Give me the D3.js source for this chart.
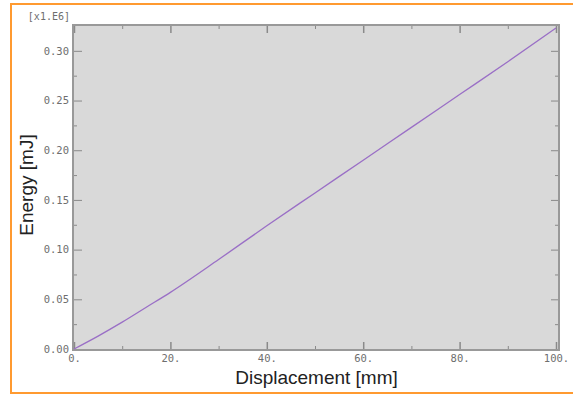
<!DOCTYPE html>
<html>
<head>
<meta charset="utf-8">
<script src="https://cdn.jsdelivr.net/npm/d3@7"></script>
<style>
  body { margin: 0; background: #fff; }
  svg { display: block; }
  .tick text { font-family: "DejaVu Sans Mono", monospace; font-size: 10.5px; fill: #6e6e6e; }
  .tick line { stroke: #8a8a8a; }
</style>
</head>
<body>
<svg width="573" height="396"></svg>
<script>
// displacement [mm] and energy [x1.E6 mJ]
var displacement = [0, 5, 10, 15, 20, 30, 40, 50, 60, 70, 80, 90, 100];
var energy = [0, 0.013, 0.027, 0.042, 0.057, 0.090, 0.124, 0.157, 0.190, 0.223, 0.256, 0.289, 0.323];

var xMajor = [0, 20, 40, 60, 80, 100];
var xMinor = [10, 30, 50, 70, 90];
var yMajor = [0, 0.05, 0.10, 0.15, 0.20, 0.25, 0.30];
var yMinor = [0.025, 0.075, 0.125, 0.175, 0.225, 0.275];

var svg = d3.select("svg");

// plot box (not "top": that name is taken by window.top)
var pLeft = 74, pRight = 556, pTop = 25, pBottom = 349;

var x = d3.scaleLinear().domain([0, 100]).range([pLeft, pRight]);
var y = d3.scaleLinear().domain([0, 0.326]).range([pBottom, pTop]);

// orange frame round the whole figure
svg.append("rect")
  .attr("x", 11).attr("y", 4)
  .attr("width", 575).attr("height", 389)
  .attr("fill", "none")
  .attr("stroke", "#ff9a30")
  .attr("stroke-width", 2);

// plot background
svg.append("rect")
  .attr("x", pLeft - 1).attr("y", pTop)
  .attr("width", pRight - pLeft + 4).attr("height", pBottom - pTop + 1)
  .attr("fill", "#d9d9d9");

// ticks
function cleanAxis(g) {
  g.select(".domain").remove();
}

svg.append("g")
  .attr("transform", "translate(0," + (pBottom + 1) + ")")
  .call(d3.axisBottom(x).tickValues(xMajor).tickSize(-8).tickPadding(5)
    .tickFormat(function(d) { return d + "."; }))
  .call(cleanAxis)
  .call(function(g) { g.selectAll("line").attr("stroke-width", 1.5); });

svg.append("g")
  .attr("transform", "translate(0," + (pBottom + 1) + ")")
  .call(d3.axisBottom(x).tickValues(xMinor).tickSize(-4).tickFormat(""))
  .call(cleanAxis);

svg.append("g")
  .attr("transform", "translate(0," + pTop + ")")
  .call(d3.axisTop(x).tickValues(xMajor).tickSize(-8).tickFormat(""))
  .call(cleanAxis)
  .call(function(g) { g.selectAll("line").attr("stroke-width", 1.5); });

svg.append("g")
  .attr("transform", "translate(0," + pTop + ")")
  .call(d3.axisTop(x).tickValues(xMinor).tickSize(-4).tickFormat(""))
  .call(cleanAxis);

svg.append("g")
  .attr("transform", "translate(" + (pLeft - 1) + ",0)")
  .call(d3.axisLeft(y).tickValues(yMajor).tickSize(-9).tickPadding(4)
    .tickFormat(d3.format(".2f")))
  .call(cleanAxis);

svg.append("g")
  .attr("transform", "translate(" + (pLeft - 1) + ",0)")
  .call(d3.axisLeft(y).tickValues(yMinor).tickSize(-4).tickFormat(""))
  .call(cleanAxis);

svg.append("g")
  .attr("transform", "translate(" + (pRight + 3) + ",0)")
  .call(d3.axisRight(y).tickValues(yMajor).tickSize(-8).tickFormat(""))
  .call(cleanAxis);

svg.append("g")
  .attr("transform", "translate(" + (pRight + 3) + ",0)")
  .call(d3.axisRight(y).tickValues(yMinor).tickSize(-4).tickFormat(""))
  .call(cleanAxis);

// plot frame
svg.append("rect")
  .attr("x", pLeft - 1).attr("y", pTop)
  .attr("width", pRight - pLeft + 4).attr("height", pBottom - pTop + 1)
  .attr("fill", "none")
  .attr("stroke", "#999")
  .attr("stroke-width", 2);

// curve
var line = d3.line()
  .x(function(d, i) { return x(displacement[i]); })
  .y(function(d) { return y(d); })
  .curve(d3.curveMonotoneX);

svg.append("path")
  .datum(energy)
  .attr("d", line)
  .attr("fill", "none")
  .attr("stroke", "#9a6fc6")
  .attr("stroke-width", 1.3);

// scale factor
svg.append("text")
  .attr("x", 70).attr("y", 20)
  .attr("text-anchor", "end")
  .style("font-family", "DejaVu Sans Mono, monospace")
  .style("font-size", "10px")
  .style("fill", "#6e6e6e")
  .text("[x1.E6]");

// axis titles
svg.append("text")
  .attr("x", (pLeft + pRight + 3) / 2).attr("y", 384)
  .attr("text-anchor", "middle")
  .style("font-family", "Liberation Sans, Arial, sans-serif")
  .style("font-size", "19px")
  .style("fill", "#222")
  .text("Displacement [mm]");

svg.append("text")
  .attr("transform", "translate(33," + ((pTop + pBottom) / 2 - 2) + ") rotate(-90)")
  .attr("text-anchor", "middle")
  .style("font-family", "Liberation Sans, Arial, sans-serif")
  .style("font-size", "19px")
  .style("fill", "#222")
  .text("Energy [mJ]");
</script>
</body>
</html>
